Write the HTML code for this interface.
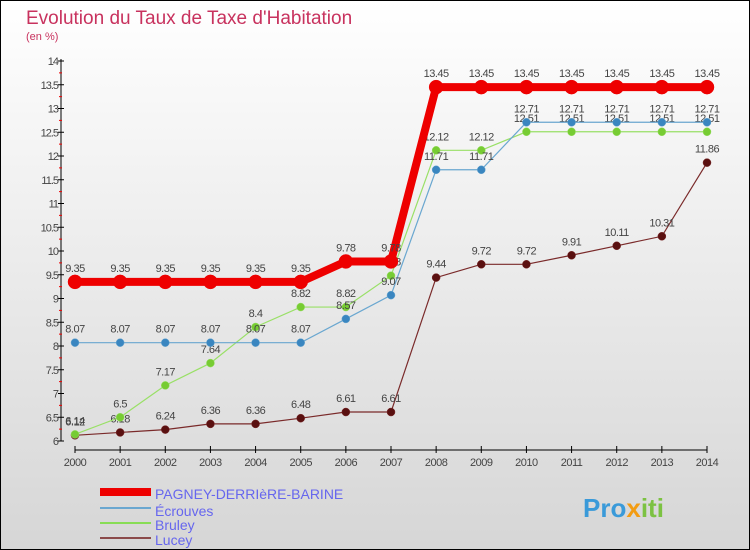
<!DOCTYPE html>
<html><head><meta charset="utf-8"><style>
body{margin:0;width:750px;height:550px;overflow:hidden}
svg{display:block;font-family:"Liberation Sans",sans-serif}
</style></head><body>
<svg id="c" width="750" height="550">
<defs><linearGradient id="bg" x1="0" y1="0" x2="0" y2="1"><stop offset="0" stop-color="#ffffff"/><stop offset="1" stop-color="#d6d6d6"/></linearGradient></defs>
<rect x="0.5" y="0.5" width="749" height="549" fill="url(#bg)" stroke="#000"/>
<text x="26" y="24" font-size="19" fill="#c8325e">Evolution du Taux de Taxe d'Habitation</text>
<text x="26" y="40" font-size="11" fill="#c8325e">(en %)</text>
<g id="axes"></g><g id="series"></g>
<g>
<rect x="100" y="488" width="51" height="8" fill="#ee0000"/>
<text x="155" y="499" font-size="14" fill="#6666ee">PAGNEY-DERRIèRE-BARINE</text>
<line x1="100" y1="508" x2="151" y2="508" stroke="#6aa7d0" stroke-width="2"/>
<text x="155" y="516" font-size="14" fill="#6666ee">Écrouves</text>
<line x1="100" y1="523" x2="151" y2="523" stroke="#88dd55" stroke-width="2"/>
<text x="155" y="530" font-size="14" fill="#6666ee">Bruley</text>
<line x1="100" y1="538" x2="151" y2="538" stroke="#8b4a4a" stroke-width="2"/>
<text x="155" y="545" font-size="14" fill="#6666ee">Lucey</text>
</g>
<text x="583" y="517" font-size="26" font-weight="bold" fill="#3a9ad9">Pro<tspan fill="#f39c12">x</tspan><tspan fill="#7cc242">iti</tspan></text>
</svg>
<script>
const years=[2000,2001,2002,2003,2004,2005,2006,2007,2008,2009,2010,2011,2012,2013,2014];
const yTicks=[6,6.5,7,7.5,8,8.5,9,9.5,10,10.5,11,11.5,12,12.5,13,13.5,14];
const pagney=[9.35,9.35,9.35,9.35,9.35,9.35,9.78,9.78,13.45,13.45,13.45,13.45,13.45,13.45,13.45];
const ecrouves=[8.07,8.07,8.07,8.07,8.07,8.07,8.57,9.07,11.71,11.71,12.71,12.71,12.71,12.71,12.71];
const bruley=[6.14,6.5,7.17,7.64,8.4,8.82,8.82,9.48,12.12,12.12,12.51,12.51,12.51,12.51,12.51];
const lucey=[6.12,6.18,6.24,6.36,6.36,6.48,6.61,6.61,9.44,9.72,9.72,9.91,10.11,10.31,11.86];
const NS="http://www.w3.org/2000/svg";
const X=i=>75+i*(707-75)/(years.length-1);
const Y=v=>441-(v-6)*(441-61)/8;
function mk(tag,attrs,parent,text){const e=document.createElementNS(NS,tag);for(const k in attrs)e.setAttribute(k,attrs[k]);if(text!=null)e.textContent=text;parent.appendChild(e);return e;}
const ax=document.getElementById('axes');
let e=mk('line',{x1:61,y1:59,x2:61,y2:441,stroke:'#000'},ax);


e=mk('line',{x1:75,y1:450,x2:707,y2:450,stroke:'#000'},ax);


yTicks.forEach((v,i)=>{mk('line',{x1:58,y1:Y(v),x2:64,y2:Y(v),stroke:'#000'},ax);
 if(i<yTicks.length-1)mk('line',{x1:59,y1:Y(v+0.25),x2:62,y2:Y(v+0.25),stroke:'#e00'},ax);
 const t=mk('text',{x:58,y:Y(v)+4,'font-size':11,fill:'#444','text-anchor':'end','letter-spacing':'-1'},ax,String(v));
 
 });
years.forEach((yr,i)=>{mk('line',{x1:X(i),y1:446,x2:X(i),y2:453,stroke:'#000'},ax);
 const t=mk('text',{x:X(i),y:466,'font-size':11,fill:'#444','text-anchor':'middle','letter-spacing':'-0.5'},ax,String(yr));
 
 });
const sg=document.getElementById('series');
function draw(name,vals,color,w,r,dot){
 const g=mk('g',{},sg);
 
 
 mk('polyline',{points:vals.map((v,i)=>X(i)+','+Y(v)).join(' '),fill:'none',stroke:color,'stroke-width':w},g);
 vals.forEach((v,i)=>{const c=mk('circle',{cx:X(i),cy:Y(v),r:r,fill:dot,stroke:color,'stroke-width':0.5},g);
  
  
  const t=mk('text',{x:X(i),y:Y(v)-10,'font-size':11,fill:'#444','text-anchor':'middle','letter-spacing':'-0.5'},g,String(v));
  
  });
}
draw('lucey',lucey,'#7a2a2a',1.2,4,'#5a1010');
draw('bruley',bruley,'#99e066',1.2,4,'#77cc33');
draw('ecrouves',ecrouves,'#6aa7d0',1.2,4,'#3a86c0');
draw('pagney',pagney,'#ee0000',8,7,'#ee0000');
</script>
</body></html>
